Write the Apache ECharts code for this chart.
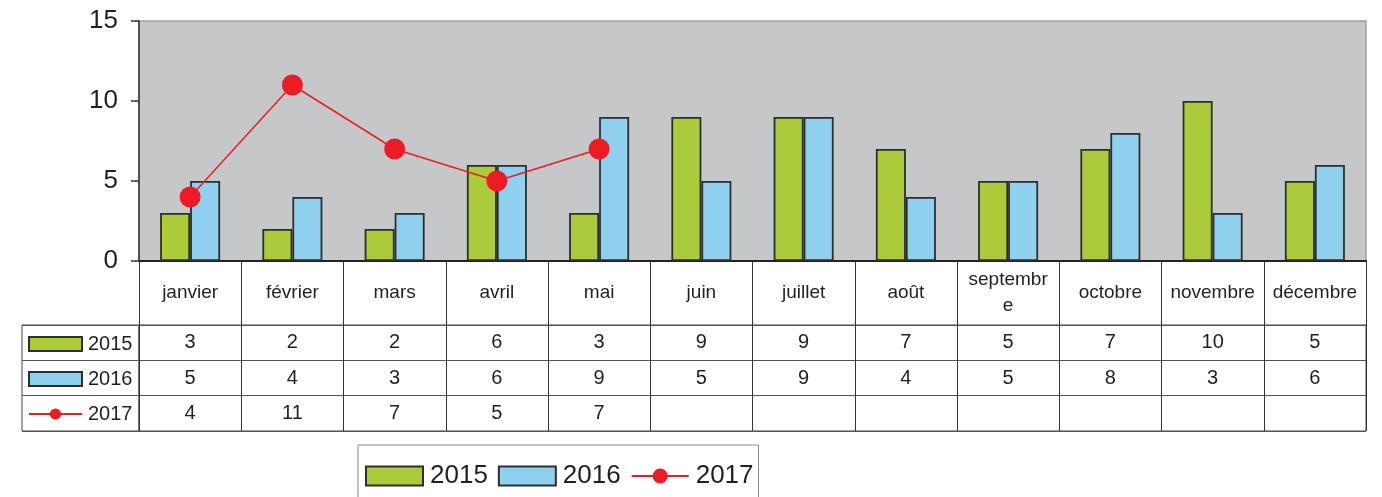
<!DOCTYPE html>
<html><head><meta charset="utf-8">
<script src="https://cdn.jsdelivr.net/npm/echarts@6/dist/echarts.min.js"></script>
<style>html,body{margin:0;padding:0;background:#fff}#c{width:1382px;height:497px}</style>
</head><body><div id="c"></div>
<script>
const months = ['janvier','février','mars','avril','mai','juin','juillet','août','septembre','octobre','novembre','décembre'];
const seriesNames = ['2015','2016','2017'];
const v2015 = [3,2,2,6,3,9,9,7,5,7,10,5];
const v2016 = [5,4,3,6,9,5,9,4,5,8,3,6];
const v2017 = [4,11,7,5,7,null,null,null,null,null,null,null];
const yMin = 0, yMax = 15, yInterval = 5;

const FONT = '"Liberation Sans", Arial, sans-serif';
const TXT = '#231f20';
const GREEN = '#abcb3a', BLUE = '#8fd0ef', RED = '#ed1c24';
const MAX_CHARS = 8; // header cell wraps after this many characters

// cells of the data table
const rows = [v2015, v2016, v2017];
const cells = [];
rows.forEach((arr, r) => arr.forEach((v, i) => { if (v !== null) cells.push([months[i], seriesNames[r], v]); }));

const legendData = [{name: '2015', icon: 'rect'}, {name: '2016', icon: 'rect'}, {name: '2017'}];

const chart = echarts.init(document.getElementById('c'), null, {renderer: 'canvas'});
chart.setOption({
  animation: false,
  textStyle: {fontFamily: FONT},
  grid: [
    {left: 139, right: 16, top: 21, height: 240, outerBoundsMode: 'none', containLabel: false,
     show: true, backgroundColor: '#c6c7c9', borderColor: '#a0a0a0', borderWidth: 1.5},
    {left: 139, right: 16, top: 325, height: 106, outerBoundsMode: 'none', containLabel: false,
     show: true, backgroundColor: 'transparent', borderColor: '#444', borderWidth: 1},
    {left: 22, width: 117, top: 325, height: 106, outerBoundsMode: 'none', containLabel: false,
     show: true, backgroundColor: 'transparent', borderColor: '#444', borderWidth: 1}
  ],
  xAxis: [
    {type: 'category', gridIndex: 0, data: months,
     axisLine: {show: true, lineStyle: {color: '#222', width: 2}},
     axisTick: {show: true, length: 170, lineStyle: {color: '#333', width: 1}},
     axisLabel: {show: true, fontSize: 19, color: TXT, fontFamily: FONT, margin: 32,
                 verticalAlign: 'middle', lineHeight: 26, interval: 0,
                 formatter: v => v.length > MAX_CHARS ? v.slice(0, MAX_CHARS) + '\n' + v.slice(MAX_CHARS) : v},
     splitLine: {show: false}},
    {type: 'category', gridIndex: 1, data: months, show: true,
     axisLine: {show: false}, axisTick: {show: false}, axisLabel: {show: false},
     splitLine: {show: true, lineStyle: {color: '#444', width: 1}}},
    {type: 'value', gridIndex: 2, show: false}
  ],
  yAxis: [
    {type: 'value', gridIndex: 0, min: yMin, max: yMax, interval: yInterval,
     axisLine: {show: true, lineStyle: {color: '#333', width: 1.5}},
     axisTick: {show: true, length: 8, lineStyle: {color: '#333', width: 1.5}},
     axisLabel: {fontSize: 26, color: TXT, fontFamily: FONT, margin: 21},
     splitLine: {show: false}},
    {type: 'category', gridIndex: 1, data: seriesNames, inverse: true,
     axisLine: {show: false}, axisTick: {show: false}, axisLabel: {show: false},
     splitLine: {show: true, lineStyle: {color: '#555', width: 1}}},
    {type: 'category', gridIndex: 2, data: seriesNames, inverse: true,
     axisLine: {show: false}, axisTick: {show: false}, axisLabel: {show: false},
     splitLine: {show: true, lineStyle: {color: '#555', width: 1}}}
  ],
  legend: [
    {data: legendData, orient: 'horizontal', left: 358, top: 445, padding: [18, 5, 30, 7],
     itemWidth: 57, itemHeight: 19, itemGap: 10, selectedMode: false,
     borderColor: '#888', borderWidth: 1,
     textStyle: {fontSize: 26, color: TXT, fontFamily: FONT, padding: [0, 0, 0, 2]}},
    {data: legendData, orient: 'vertical', left: 28, top: 334, padding: 0,
     itemWidth: 53, itemHeight: 14, itemGap: 15, selectedMode: false,
     textStyle: {fontSize: 20, color: TXT, fontFamily: FONT, lineHeight: 20, padding: [0, 0, 0, 1]}}
  ],
  series: [
    {name: '2015', type: 'bar', xAxisIndex: 0, yAxisIndex: 0, data: v2015, barWidth: 30, barGap: '0%',
     itemStyle: {color: GREEN, borderColor: '#2e2e2e', borderWidth: 1.8}, silent: true},
    {name: '2016', type: 'bar', xAxisIndex: 0, yAxisIndex: 0, data: v2016, barWidth: 30, barGap: '0%',
     itemStyle: {color: BLUE, borderColor: '#2e2e2e', borderWidth: 1.8}, silent: true},
    {name: '2017', type: 'line', xAxisIndex: 0, yAxisIndex: 0, data: v2017, connectNulls: false,
     symbol: 'circle', symbolSize: 21, lineStyle: {color: RED, width: 1.5},
     itemStyle: {color: RED}, silent: true, z: 5},
    {type: 'scatter', xAxisIndex: 1, yAxisIndex: 1, data: cells, symbolSize: 1,
     itemStyle: {color: '#ffffff', opacity: 1}, silent: true, z: 10,
     label: {show: true, position: 'inside', formatter: p => String(p.data[2]),
             fontSize: 20, color: TXT, opacity: 1, fontFamily: FONT}}
  ]
});
</script></body></html>
